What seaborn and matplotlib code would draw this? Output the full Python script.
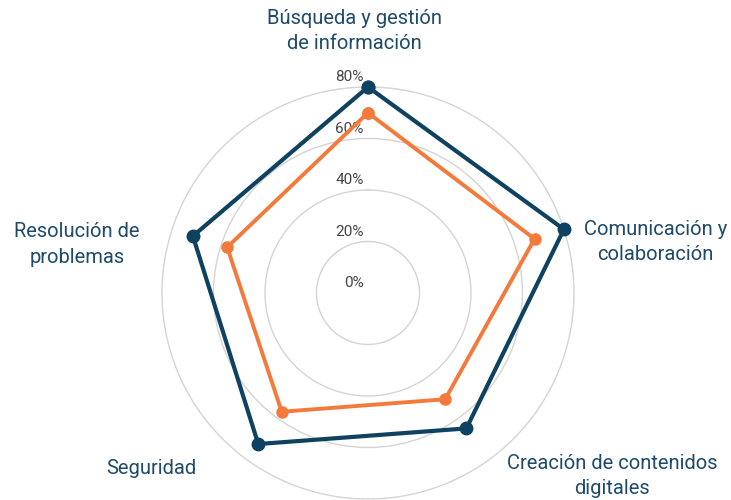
import matplotlib
matplotlib.use("Agg")
import matplotlib.pyplot as plt
import numpy as np
import seaborn as sns

# Data
categories = ['Búsqueda y gestión\nde información', 'Comunicación y\ncolaboración',
              'Creación de contenidos\ndigitales', 'Seguridad', 'Resolución de\nproblemas']
serie_azul = [80, 80, 65, 72.5, 71.5]
serie_naranja = [70, 68, 51, 57, 57.5]
rticks = [0, 20, 40, 60, 80]
rtick_labels = ['0%', '20%', '40%', '60%', '80%']

# label positions (axes fraction)
label_pos = [(0.468, 1.136), (1.197, 0.624), (1.092, 0.056), (-0.027, 0.075), (-0.206, 0.617)]

sns.set_style('white')
plt.rcParams['font.family'] = ['Roboto', 'DejaVu Sans']

azul = '#0f4261'
naranja = '#f47a3b'
texto = '#1f4a6b'

n = len(categories)
angles = np.linspace(0, 2 * np.pi, n, endpoint=False)
ang_closed = np.concatenate([angles, angles[:1]])

fig = plt.figure(figsize=(7.31, 5.0), dpi=100)
ax = fig.add_axes([0.2216, 0.002, 0.5636, 0.824], projection='polar')
ax.set_theta_zero_location('N')
ax.set_theta_direction(-1)
ax.set_ylim(0, 80)

for vals, color, lw, ms in [(serie_azul, azul, 3.0, 9), (serie_naranja, naranja, 2.8, 8)]:
    v = np.concatenate([vals, vals[:1]])
    ax.plot(ang_closed, v, color=color, linewidth=lw, marker='o', markersize=ms,
            zorder=3, clip_on=False)

ax.set_xticks(angles)
ax.set_xticklabels([])
ax.xaxis.grid(False)
ax.set_yticks(rticks[1:-1])
ax.set_yticklabels([])
ax.yaxis.grid(True, color='#d4d4d4', linewidth=1)
ax.spines['polar'].set_color('#d4d4d4')
ax.spines['polar'].set_linewidth(1)

for r, lab in zip(rticks, rtick_labels):
    ax.annotate(lab, xy=(0, r), xytext=(-3, 2), textcoords='offset points',
                ha='right', va='bottom', fontsize=11, color='#444444', zorder=2)

for lab, (x, y) in zip(categories, label_pos):
    ax.text(x, y, lab, transform=ax.transAxes, ha='center', va='center',
            fontsize=14.5, color=texto, linespacing=1.45)

fig.savefig('out.png', dpi=100)
